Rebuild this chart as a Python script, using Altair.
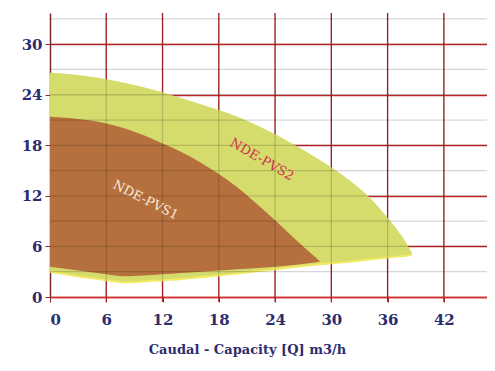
import altair as alt
import pandas as pd

# PVS2 envelope
pvs2_x = [0, 2, 4, 6, 8, 10, 12, 14, 16, 18, 20, 22, 24, 26, 28, 30, 32, 34, 36, 37, 38, 38.6]
pvs2_top = [26.6, 26.45, 26.2, 25.85, 25.4, 24.9, 24.3, 23.6, 22.9, 22.2, 21.4, 20.4, 19.3, 18.1, 16.8, 15.4, 13.8, 11.9, 9.4, 8.0, 6.4, 5.2]
pvs2_bot = [3.0, 2.65, 2.3, 2.0, 1.75, 1.85, 2.0, 2.15, 2.35, 2.55, 2.8, 3.05, 3.3, 3.55, 3.8, 4.0, 4.2, 4.45, 4.7, 4.8, 4.9, 5.0]

# PVS1 envelope
pvs1_x = [0, 2, 4, 6, 8, 10, 12, 14, 16, 18, 20, 22, 24, 26, 28, 28.8]
pvs1_top = [21.4, 21.25, 21.0, 20.6, 20.0, 19.2, 18.2, 17.2, 16.0, 14.6, 13.0, 11.1, 9.1, 7.0, 5.0, 4.2]
pvs1_bot = [3.6, 3.3, 3.0, 2.7, 2.45, 2.55, 2.7, 2.85, 3.0, 3.15, 3.3, 3.45, 3.6, 3.8, 4.05, 4.2]

labels = ["NDE-PVS1", "NDE-PVS2"]
label_x = [10.2, 22.6]
label_y = [11.5, 16.3]

x_grid = [6, 12, 18, 24, 30, 36, 42]
y_grid = [3, 6, 9, 12, 15, 18, 21, 24, 27, 30, 33]
x_ticks = [0, 3, 6, 9, 12, 15, 18, 21, 24, 27, 30, 33, 36, 39, 42, 45]
y_ticks = [0, 3, 6, 9, 12, 15, 18, 21, 24, 27, 30, 33]

XMAX, YMAX = 46.6, 33.7

df2 = pd.DataFrame({"x": pvs2_x, "top": pvs2_top, "bot": pvs2_bot})
df1 = pd.DataFrame({"x": pvs1_x, "top": pvs1_top, "bot": pvs1_bot})
dl = pd.DataFrame({"label": labels, "x": label_x, "y": label_y})
dgx = pd.DataFrame({"x": x_grid})
dgy = pd.DataFrame({"y": y_grid})

xscale = alt.Scale(domain=[0, XMAX], nice=False, zero=False)
yscale = alt.Scale(domain=[0, YMAX], nice=False, zero=False)

label_font = "DejaVu Serif"

xaxis = alt.Axis(
    values=x_ticks, grid=False, title="Caudal - Capacity [Q] m3/h",
    labelExpr="datum.value % 6 == 0 ? datum.label : ''",
    labelFont=label_font, labelFontSize=15, labelFontWeight="bold", labelColor="#2d2d6e",
    labelPadding=10, tickColor="#8b2a2a", tickSize=5, domainColor="#d03030", domainWidth=1.5,
    titleFont=label_font, titleFontSize=13, titleFontWeight="bold", titleColor="#2d2d6e",
    titlePadding=16, titleX=197, titleAnchor="start", titleAlign="center",
)
yaxis = alt.Axis(
    values=y_ticks, grid=True, gridColor="#c8282a", gridWidth=1.3, gridOpacity=1, title=None,
    labelExpr="datum.value % 6 == 0 ? datum.label : ''",
    labelFont=label_font, labelFontSize=15, labelFontWeight="bold", labelColor="#2d2d6e",
    labelPadding=3, tickColor="#8b2a2a", tickSize=5, domainColor="#7a2a2a", domainWidth=1.5,
)

vgrid = alt.Chart(dgx).mark_rule(color="#b82222", strokeWidth=1.3).encode(
    x=alt.X("x:Q", scale=xscale, axis=xaxis),
    y=alt.value(0),
    y2=alt.value(289),
)

area2 = alt.Chart(df2).mark_area(color="#d5dc6c", interpolate="monotone").encode(
    x=alt.X("x:Q", scale=xscale),
    y=alt.Y("top:Q", scale=yscale, axis=yaxis),
    y2="bot:Q",
)
edge2 = alt.Chart(df2).mark_line(color="#f2ea62", strokeWidth=2, interpolate="monotone").encode(
    x=alt.X("x:Q", scale=xscale),
    y=alt.Y("bot:Q", scale=yscale),
)
area1 = alt.Chart(df1).mark_area(color="#b6703e", interpolate="monotone").encode(
    x=alt.X("x:Q", scale=xscale),
    y=alt.Y("top:Q", scale=yscale),
    y2="bot:Q",
)

# darkening overlay of the grid (grid visible through the fills)
ov_v = alt.Chart(dgx).mark_rule(color="black", opacity=0.16, strokeWidth=1.3).encode(
    x=alt.X("x:Q", scale=xscale),
    y=alt.value(0),
    y2=alt.value(284),
)
ov_h = alt.Chart(dgy).mark_rule(color="black", opacity=0.16, strokeWidth=1.3).encode(
    y=alt.Y("y:Q", scale=yscale),
    x=alt.value(0),
    x2=alt.value(437),
)

t1 = alt.Chart(dl[dl.label == "NDE-PVS1"]).mark_text(
    font=label_font, fontSize=13, angle=27, color="#f7ead8"
).encode(x=alt.X("x:Q", scale=xscale), y=alt.Y("y:Q", scale=yscale), text="label:N")
t2 = alt.Chart(dl[dl.label == "NDE-PVS2"]).mark_text(
    font=label_font, fontSize=13, angle=30, color="#d0304e"
).encode(x=alt.X("x:Q", scale=xscale), y=alt.Y("y:Q", scale=yscale), text="label:N")

chart = alt.layer(vgrid, area2, edge2, area1, ov_v, ov_h, t1, t2).properties(
    width=437, height=284,
    autosize=alt.AutoSizeParams(type="none"),
    padding={"left": 42, "top": 5, "right": 0, "bottom": 66},
    background="white",
).configure_view(stroke=None)

chart.save("out.html", embed_options={"renderer": "svg", "actions": False})
